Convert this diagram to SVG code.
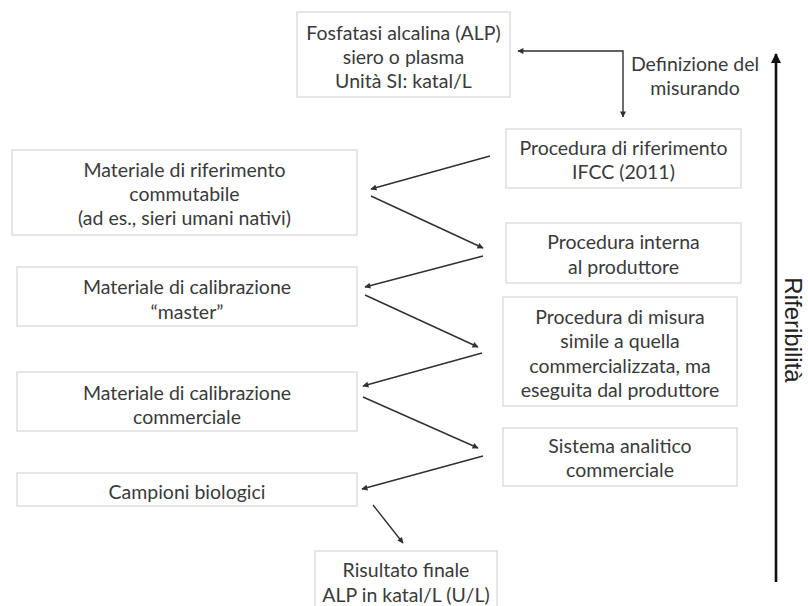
<svg xmlns="http://www.w3.org/2000/svg" width="808" height="606" viewBox="0 0 808 606">
<style>
.box{fill:#ffffff;stroke:#d6d6d6;stroke-width:1.2}
.t{font-family:Lato,"Open Sans",sans-serif;font-size:19.5px;fill:#3a3a3a;text-anchor:middle;dominant-baseline:central}
.c{fill:none;stroke:#303030;stroke-width:1.4}
.v{fill:none;stroke:#111111;stroke-width:2.6}
.r{font-family:"Liberation Sans",Arial,sans-serif;font-size:24px;fill:#222222;text-anchor:middle;dominant-baseline:central}
</style>
<defs>
<marker id="ah" viewBox="0 0 10 10" refX="9" refY="5" markerWidth="7" markerHeight="6" markerUnits="userSpaceOnUse" orient="auto-start-reverse">
<path d="M0,0 L10,5 L0,10 z" fill="#303030"/>
</marker>
<marker id="big" viewBox="0 0 10 10" refX="9" refY="5" markerWidth="14" markerHeight="10" markerUnits="userSpaceOnUse" orient="auto">
<path d="M0,0 L10,5 L0,10 z" fill="#111111"/>
</marker>
</defs>
<rect width="808" height="606" fill="#ffffff"/>

<g id="alp">
<rect class="box" x="297" y="12" width="213" height="85"/>
<text class="t" x="403.5" y="32">Fosfatasi alcalina (ALP)</text>
<text class="t" x="403.5" y="56">siero o plasma</text>
<text class="t" x="403.5" y="80">Unità SI: katal/L</text>
</g>

<g id="definizione">
<text class="t" x="695" y="63">Definizione del</text>
<text class="t" x="695" y="87">misurando</text>
</g>

<g id="ifcc">
<rect class="box" x="506" y="129" width="235" height="59"/>
<text class="t" x="623.5" y="147">Procedura di riferimento</text>
<text class="t" x="623.5" y="171">IFCC (2011)</text>
</g>

<g id="commutabile">
<rect class="box" x="12" y="150" width="345" height="85"/>
<text class="t" x="184.5" y="169">Materiale di riferimento</text>
<text class="t" x="184.5" y="193">commutabile</text>
<text class="t" x="184.5" y="217">(ad es., sieri umani nativi)</text>
</g>

<g id="interna">
<rect class="box" x="506" y="223" width="235" height="60"/>
<text class="t" x="623.5" y="241">Procedura interna</text>
<text class="t" x="623.5" y="266">al produttore</text>
</g>

<g id="master">
<rect class="box" x="17" y="267" width="340" height="59"/>
<text class="t" x="187" y="286">Materiale di calibrazione</text>
<text class="t" x="187" y="311">“master”</text>
</g>

<g id="misura">
<rect class="box" x="503" y="297" width="234" height="109"/>
<text class="t" x="620" y="316">Procedura di misura</text>
<text class="t" x="620" y="340">simile a quella</text>
<text class="t" x="620" y="365">commercializzata, ma</text>
<text class="t" x="620" y="389">eseguita dal produttore</text>
</g>

<g id="commerciale">
<rect class="box" x="17" y="372" width="340" height="59"/>
<text class="t" x="187" y="392">Materiale di calibrazione</text>
<text class="t" x="187" y="416">commerciale</text>
</g>

<g id="sistema">
<rect class="box" x="503" y="428" width="234" height="58"/>
<text class="t" x="620" y="445">Sistema analitico</text>
<text class="t" x="620" y="469">commerciale</text>
</g>

<g id="campioni">
<rect class="box" x="17" y="473" width="340" height="33"/>
<text class="t" x="187" y="491">Campioni biologici</text>
</g>

<g id="risultato">
<rect class="box" x="315" y="551" width="182" height="62"/>
<text class="t" x="406" y="569">Risultato finale</text>
<text class="t" x="406" y="594">ALP in katal/L (U/L)</text>
</g>

<g id="riferibilita">
<text class="r" transform="translate(793,330) rotate(90)">Riferibilità</text>
</g>

<g id="connectors">
<path class="c" d="M518,51 H623 V117" marker-start="url(#ah)" marker-end="url(#ah)"/>
<path class="c" d="M490,156 L371,189" marker-end="url(#ah)"/>
<path class="c" d="M371,196 L483,248" marker-end="url(#ah)"/>
<path class="c" d="M483,256 L365,287" marker-end="url(#ah)"/>
<path class="c" d="M365,295 L478,347" marker-end="url(#ah)"/>
<path class="c" d="M482,353 L363,386" marker-end="url(#ah)"/>
<path class="c" d="M363,397 L478,448" marker-end="url(#ah)"/>
<path class="c" d="M483,456 L362,489" marker-end="url(#ah)"/>
<path class="c" d="M373,505 L403,543" marker-end="url(#ah)"/>
<path class="v" d="M776,582 V54" marker-end="url(#big)"/>
</g>
</svg>
